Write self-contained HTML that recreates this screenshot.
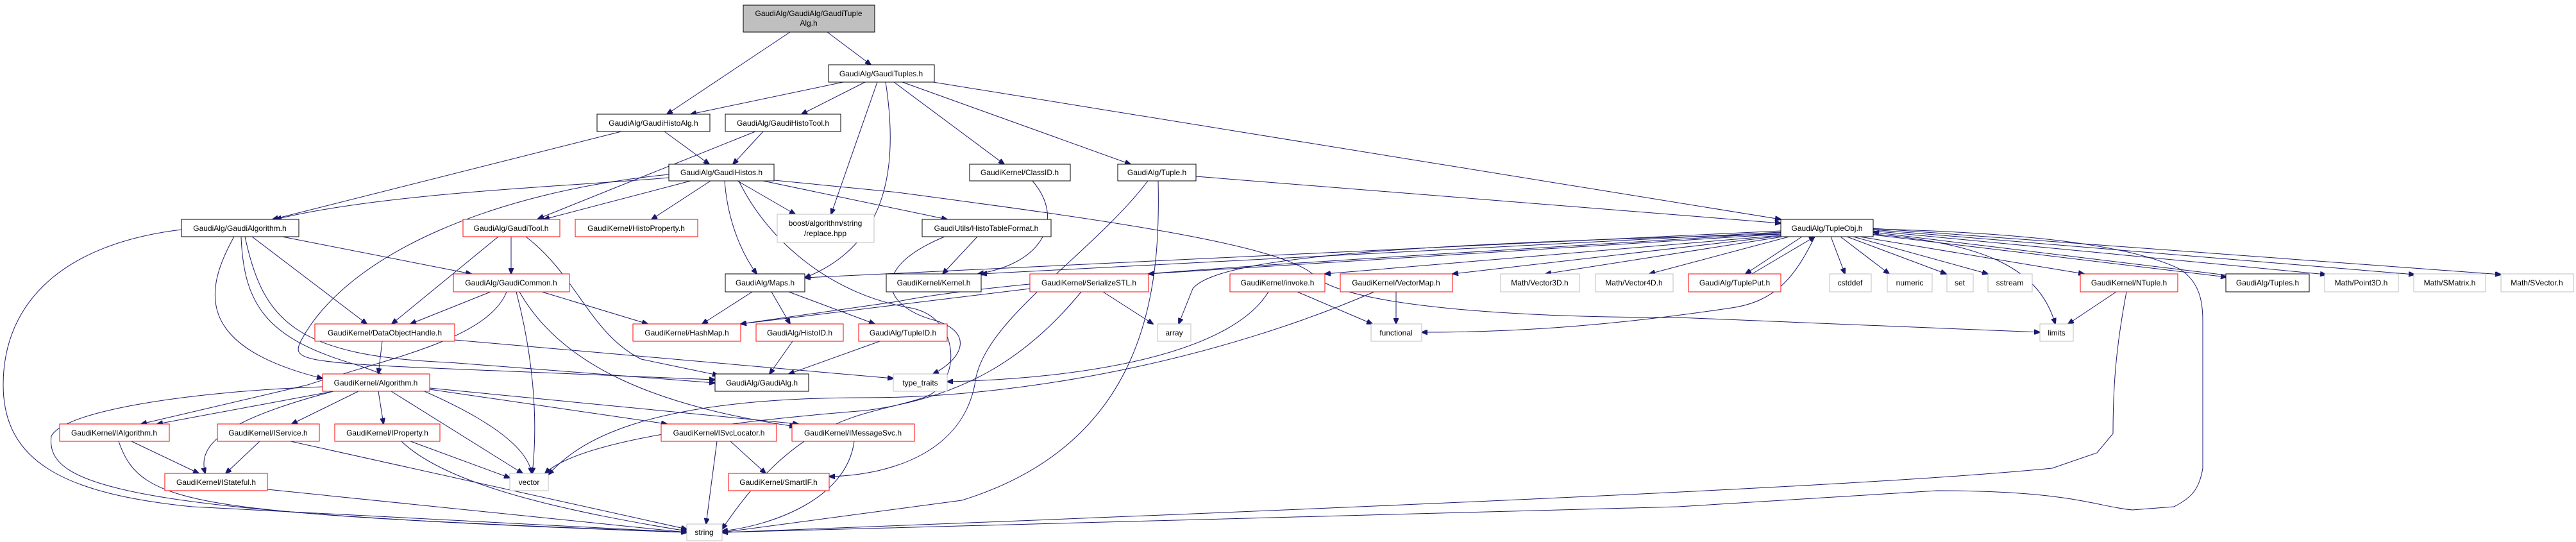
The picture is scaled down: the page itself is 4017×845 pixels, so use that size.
<!DOCTYPE html>
<html><head><meta charset="utf-8"><style>
html,body{margin:0;padding:0;background:#fff;}
svg{display:block;}
text{font-family:"Liberation Sans",Arial,sans-serif;font-size:12px;text-anchor:middle;fill:#000;}
.e{fill:none;stroke:#191970;stroke-width:1;marker-end:url(#a);}
.b{fill:#fff;stroke:#000;stroke-width:1;}
.r{fill:#fff;stroke:#ff0000;stroke-width:1;}
.g{fill:#fff;stroke:#bfbfbf;stroke-width:1;}
</style></head><body>
<svg width="4017" height="845" viewBox="0 0 4017 845" xmlns="http://www.w3.org/2000/svg">
<defs><marker id="a" markerWidth="10" markerHeight="8" refX="9" refY="4" orient="auto" markerUnits="userSpaceOnUse"><path d="M0,0 L10,4 L0,8 z" fill="#191970" stroke="#191970"/></marker></defs>
<g>
<path class="e" d="M1232,50 L1040,178"/>
<path class="e" d="M1290,50 L1358,101"/>
<path class="e" d="M1315,128 L1077,178"/>
<path class="e" d="M1349,128 L1250,178"/>
<path class="e" d="M1368,128 L1296,334"/>
<path class="e" d="M1381,128 C1400,250 1390,380 1255,433"/>
<path class="e" d="M1394,128 L1566,256"/>
<path class="e" d="M1407,128 L1763,256"/>
<path class="e" d="M1455,128 L2777,342"/>
<path class="e" d="M969,205 L425,342"/>
<path class="e" d="M1036,205 L1106,256"/>
<path class="e" d="M1178,205 L839,341"/>
<path class="e" d="M1190,205 L1143,256"/>
<path class="e" d="M1043,277 C900,290 600,300 430,342"/>
<path class="e" d="M1043,272 C760,300 540,400 470,530 C455,560 460,565 700,575 L1115,592"/>
<path class="e" d="M1077,282 L848,342"/>
<path class="e" d="M1108,282 L1016,342"/>
<path class="e" d="M1150,282 L1240,334"/>
<path class="e" d="M1130,282 C1135,350 1160,400 1180,427"/>
<path class="e" d="M1190,282 L1477,342"/>
<path class="e" d="M1207,281 L1400,300 C1700,340 2000,380 2050,430 C2090,470 2300,495 2617,495 L3181,518"/>
<path class="e" d="M1152,282 C1200,380 1300,460 1420,480 C1500,495 1500,600 1440,620 C1350,650 1250,640 1126,825"/>
<path class="e" d="M283,358 C100,380 5,470 5,600 C5,720 100,770 300,790 L1071,830"/>
<path class="e" d="M440,369 L735,427"/>
<path class="e" d="M393,369 L572,505"/>
<path class="e" d="M365,369 C320,450 300,540 503,590"/>
<path class="e" d="M376,369 C380,480 420,530 560,570 C700,620 820,680 829,738"/>
<path class="e" d="M382,369 C410,500 460,555 700,565 L1115,597"/>
<path class="e" d="M777,369 L611,505"/>
<path class="e" d="M797,369 L797,427"/>
<path class="e" d="M820,369 C900,430 920,520 1000,560 L1120,585"/>
<path class="e" d="M765,455 L640,505"/>
<path class="e" d="M845,455 L1010,505"/>
<path class="e" d="M790,455 C760,530 600,560 480,600 L220,661"/>
<path class="e" d="M805,455 C830,550 840,650 830,738"/>
<path class="e" d="M810,455 C870,560 1000,630 1240,665"/>
<path class="e" d="M1173,455 L1095,505"/>
<path class="e" d="M1203,455 L1232,505"/>
<path class="e" d="M1230,455 L1364,505"/>
<path class="e" d="M1236,532 L1200,583"/>
<path class="e" d="M1372,532 L1230,583"/>
<path class="e" d="M596,532 L590,583"/>
<path class="e" d="M709,530 L1393,590"/>
<path class="e" d="M520,610 L245,661"/>
<path class="e" d="M503,603 C300,610 100,640 80,680 C70,760 200,800 1071,830"/>
<path class="e" d="M520,610 C330,660 310,700 320,738"/>
<path class="e" d="M559,610 L455,661"/>
<path class="e" d="M590,610 L598,661"/>
<path class="e" d="M610,610 L815,738"/>
<path class="e" d="M670,607 L1040,661"/>
<path class="e" d="M670,605 L1245,661"/>
<path class="e" d="M205,688 L310,738"/>
<path class="e" d="M185,688 C220,790 300,800 1071,830"/>
<path class="e" d="M405,688 L352,738"/>
<path class="e" d="M453,688 L1071,825"/>
<path class="e" d="M640,688 L795,745"/>
<path class="e" d="M626,688 C700,760 900,800 1071,828"/>
<path class="e" d="M1118,688 L1101,817"/>
<path class="e" d="M1139,688 L1194,738"/>
<path class="e" d="M1332,688 C1320,780 1200,820 1126,828"/>
<path class="e" d="M417,763 L1071,830"/>
<path class="e" d="M1473,369 C1350,420 1380,480 1460,500 C1520,520 1500,560 1455,583"/>
<path class="e" d="M1524,369 L1470,427"/>
<path class="e" d="M1610,282 C1660,340 1630,410 1525,427"/>
<path class="e" d="M1806,282 C1810,450 1790,690 1500,780 L1126,830"/>
<path class="e" d="M1790,282 C1700,400 1530,500 1520,600 C1500,700 1400,740 1293,743"/>
<path class="e" d="M1865,275 L2777,348"/>
<path class="e" d="M1606,450 L1155,505"/>
<path class="e" d="M1720,455 L1798,505"/>
<path class="e" d="M1686,455 C1600,560 1500,620 1350,640 C1100,660 900,690 850,738"/>
<path class="e" d="M1978,455 C1920,550 1700,590 1477,595"/>
<path class="e" d="M2023,455 L2140,505"/>
<path class="e" d="M2177,455 L2177,505"/>
<path class="e" d="M2143,455 C1900,560 1600,620 1350,620 C1000,620 900,690 855,740"/>
<path class="e" d="M2777,360 L1255,433"/>
<path class="e" d="M2777,362 L1530,427"/>
<path class="e" d="M2777,363 C2200,400 1600,430 1400,470 L1155,505"/>
<path class="e" d="M2777,365 C2200,380 1900,400 1860,450 L1838,505"/>
<path class="e" d="M2777,365 L1791,427"/>
<path class="e" d="M2777,367 L2066,427"/>
<path class="e" d="M2777,368 L2265,427"/>
<path class="e" d="M2780,369 L2410,427"/>
<path class="e" d="M2790,369 L2572,427"/>
<path class="e" d="M2830,369 C2800,430 2770,470 2700,480 C2500,510 2350,518 2217,518"/>
<path class="e" d="M2810,369 L2722,427"/>
<path class="e" d="M2732,427 L2830,369"/>
<path class="e" d="M2855,369 L2877,427"/>
<path class="e" d="M2870,369 L2946,427"/>
<path class="e" d="M2880,369 L3035,427"/>
<path class="e" d="M2890,369 L3100,427"/>
<path class="e" d="M2900,369 L3250,427"/>
<path class="e" d="M2921,365 C3100,380 3180,420 3205,505"/>
<path class="e" d="M2921,366 L3472,432"/>
<path class="e" d="M3480,430 L2921,362"/>
<path class="e" d="M2921,360 L3627,428"/>
<path class="e" d="M2921,358 L3765,428"/>
<path class="e" d="M2921,356 L3900,428"/>
<path class="e" d="M2921,357 C3050,360 3300,370 3400,420 C3430,440 3435,470 3435,500 L3435,730 C3430,760 3420,775 3390,790 L3325,795 C3270,790 3230,765 3020,765 L2617,790 L1126,830"/>
<path class="e" d="M3300,455 L3225,505"/>
<path class="e" d="M3316,455 C3300,540 3295,600 3295,676 L3270,706 L3200,730 C3050,745 2700,770 1126,830"/>
</g>
<g>
<rect x="1159" y="8" width="205" height="42" fill="#bfbfbf" stroke="#000"/>
<text x="1261" y="25">GaudiAlg/GaudiAlg/GaudiTuple</text><text x="1261" y="40">Alg.h</text>
<rect class="b" x="1292" y="101" width="165" height="27"/><text x="1374" y="119">GaudiAlg/GaudiTuples.h</text>
<rect class="b" x="931" y="178" width="176" height="27"/><text x="1019" y="196">GaudiAlg/GaudiHistoAlg.h</text>
<rect class="b" x="1131" y="178" width="180" height="27"/><text x="1221" y="196">GaudiAlg/GaudiHistoTool.h</text>
<rect class="b" x="1043" y="256" width="164" height="26"/><text x="1125" y="273">GaudiAlg/GaudiHistos.h</text>
<rect class="b" x="1512" y="256" width="157" height="26"/><text x="1590" y="273">GaudiKernel/ClassID.h</text>
<rect class="b" x="1743" y="256" width="122" height="26"/><text x="1804" y="273">GaudiAlg/Tuple.h</text>
<rect class="b" x="283" y="342" width="183" height="27"/><text x="374" y="360">GaudiAlg/GaudiAlgorithm.h</text>
<rect class="r" x="722" y="342" width="151" height="27"/><text x="797" y="360">GaudiAlg/GaudiTool.h</text>
<rect class="r" x="897" y="342" width="191" height="27"/><text x="992" y="360">GaudiKernel/HistoProperty.h</text>
<rect class="g" x="1212" y="334" width="151" height="44"/><text x="1287" y="352">boost/algorithm/string</text><text x="1287" y="368">/replace.hpp</text>
<rect class="b" x="1438" y="342" width="201" height="27"/><text x="1538" y="360">GaudiUtils/HistoTableFormat.h</text>
<rect class="b" x="2777" y="342" width="144" height="27"/><text x="2849" y="360">GaudiAlg/TupleObj.h</text>
<rect class="r" x="707" y="427" width="181" height="28"/><text x="797" y="445">GaudiAlg/GaudiCommon.h</text>
<rect class="b" x="1131" y="427" width="124" height="28"/><text x="1193" y="445">GaudiAlg/Maps.h</text>
<rect class="b" x="1382" y="427" width="148" height="28"/><text x="1456" y="445">GaudiKernel/Kernel.h</text>
<rect class="r" x="1606" y="427" width="185" height="28"/><text x="1698" y="445">GaudiKernel/SerializeSTL.h</text>
<rect class="r" x="1918" y="427" width="148" height="28"/><text x="1992" y="445">GaudiKernel/invoke.h</text>
<rect class="r" x="2090" y="427" width="175" height="28"/><text x="2177" y="445">GaudiKernel/VectorMap.h</text>
<rect class="g" x="2340" y="427" width="123" height="28"/><text x="2401" y="445">Math/Vector3D.h</text>
<rect class="g" x="2488" y="427" width="121" height="28"/><text x="2548" y="445">Math/Vector4D.h</text>
<rect class="r" x="2633" y="427" width="144" height="28"/><text x="2705" y="445">GaudiAlg/TuplePut.h</text>
<rect class="g" x="2853" y="427" width="65" height="28"/><text x="2885" y="445">cstddef</text>
<rect class="g" x="2943" y="427" width="70" height="28"/><text x="2978" y="445">numeric</text>
<rect class="g" x="3036" y="427" width="41" height="28"/><text x="3056" y="445">set</text>
<rect class="g" x="3100" y="427" width="69" height="28"/><text x="3134" y="445">sstream</text>
<rect class="r" x="3244" y="427" width="152" height="28"/><text x="3320" y="445">GaudiKernel/NTuple.h</text>
<rect class="b" x="3471" y="427" width="130" height="28"/><text x="3536" y="445">GaudiAlg/Tuples.h</text>
<rect class="g" x="3625" y="427" width="115" height="28"/><text x="3682" y="445">Math/Point3D.h</text>
<rect class="g" x="3764" y="427" width="112" height="28"/><text x="3820" y="445">Math/SMatrix.h</text>
<rect class="g" x="3900" y="427" width="113" height="28"/><text x="3956" y="445">Math/SVector.h</text>
<rect class="r" x="491" y="505" width="218" height="27"/><text x="600" y="523">GaudiKernel/DataObjectHandle.h</text>
<rect class="r" x="987" y="505" width="168" height="27"/><text x="1071" y="523">GaudiKernel/HashMap.h</text>
<rect class="r" x="1179" y="505" width="136" height="27"/><text x="1247" y="523">GaudiAlg/HistoID.h</text>
<rect class="r" x="1339" y="505" width="138" height="27"/><text x="1408" y="523">GaudiAlg/TupleID.h</text>
<rect class="g" x="1805" y="505" width="52" height="27"/><text x="1831" y="523">array</text>
<rect class="g" x="2138" y="505" width="79" height="27"/><text x="2177" y="523">functional</text>
<rect class="g" x="3181" y="505" width="52" height="27"/><text x="3207" y="523">limits</text>
<rect class="r" x="503" y="583" width="167" height="27"/><text x="586" y="601">GaudiKernel/Algorithm.h</text>
<rect class="b" x="1115" y="583" width="146" height="27"/><text x="1188" y="601">GaudiAlg/GaudiAlg.h</text>
<rect class="g" x="1393" y="583" width="84" height="27"/><text x="1435" y="601">type_traits</text>
<rect class="r" x="93" y="661" width="171" height="27"/><text x="178" y="679">GaudiKernel/IAlgorithm.h</text>
<rect class="r" x="339" y="661" width="159" height="27"/><text x="418" y="679">GaudiKernel/IService.h</text>
<rect class="r" x="522" y="661" width="164" height="27"/><text x="604" y="679">GaudiKernel/IProperty.h</text>
<rect class="r" x="1031" y="661" width="180" height="27"/><text x="1121" y="679">GaudiKernel/ISvcLocator.h</text>
<rect class="r" x="1235" y="661" width="191" height="27"/><text x="1330" y="679">GaudiKernel/IMessageSvc.h</text>
<rect class="r" x="257" y="738" width="160" height="27"/><text x="337" y="756">GaudiKernel/IStateful.h</text>
<rect class="g" x="795" y="738" width="60" height="27"/><text x="825" y="756">vector</text>
<rect class="r" x="1136" y="738" width="157" height="27"/><text x="1214" y="756">GaudiKernel/SmartIF.h</text>
<rect class="g" x="1071" y="817" width="55" height="26"/><text x="1098" y="834">string</text>
</g>
</svg>
</body></html>
